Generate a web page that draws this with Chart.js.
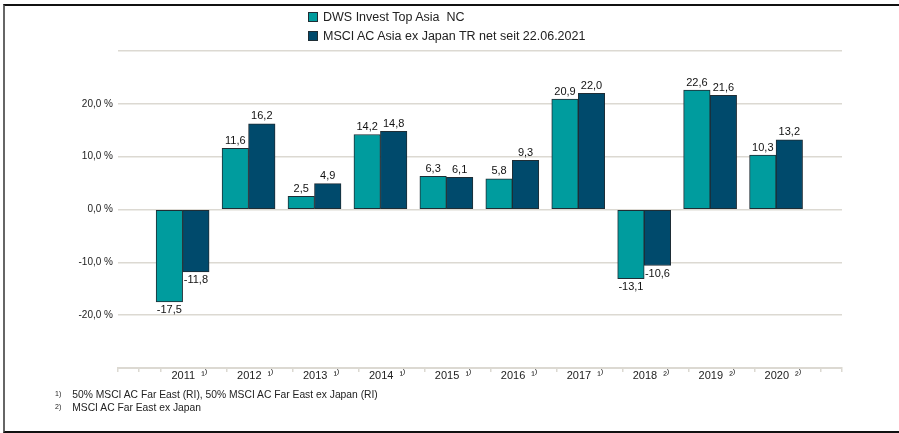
<!DOCTYPE html>
<html>
<head>
<meta charset="utf-8">
<style>
  body { margin: 0; background: #fff; font-family: "Liberation Sans", Arial, sans-serif; }
  .wrap { position: relative; width: 899px; height: 433px; overflow: hidden; }
  .frame { position: absolute; left: 3px; top: 4px; width: 910px; height: 425px;
    border-top: 2px solid #111; border-left: 2px solid #666; border-bottom: 2px solid #111; }
  #myChart { position: absolute; left: 0; top: 0; }
  .legend { position: absolute; left: 308px; top: 9px; font-size: 12.5px; color: #222; }
  .legend div { height: 19px; line-height: 16px; white-space: pre; }
  .legend span { display: inline-block; width: 8px; height: 8px; border: 1px solid #1f2d35;
    margin-right: 5px; vertical-align: -1px; }
  .notes { position: absolute; left: 55px; top: 387px; font-size: 10.3px; color: #222; }
  .notes div { height: 13px; line-height: 13px; }
  .notes sup { font-size: 7px; vertical-align: 2px; margin-right: 11px; }
</style>
</head>
<body>
<div class="wrap">
  <div class="frame"></div>
  <canvas id="myChart" width="899" height="433"></canvas>
  <div class="legend" id="legend"></div>
  <div class="notes">
    <div><sup>1)</sup>50% MSCI AC Far East (RI), 50% MSCI AC Far East ex Japan (RI)</div>
    <div><sup>2)</sup>MSCI AC Far East ex Japan</div>
  </div>
</div>

<script src="https://cdn.jsdelivr.net/npm/chart.js@4"></script>
<script>
// data
const years = ['2011', '2012', '2013', '2014', '2015', '2016', '2017', '2018', '2019', '2020'];
const yearNotes = ['¹⁾', '¹⁾', '¹⁾', '¹⁾', '¹⁾', '¹⁾', '¹⁾', '²⁾', '²⁾', '²⁾'];
const fundName = 'DWS Invest Top Asia  NC';
const benchName = 'MSCI AC Asia ex Japan TR net seit 22.06.2021';
const fundValues = [-17.5, 11.6, 2.5, 14.2, 6.3, 5.8, 20.9, -13.1, 22.6, 10.3];
const benchValues = [-11.8, 16.2, 4.9, 14.8, 6.1, 9.3, 22.0, -10.6, 21.6, 13.2];

const fundColor = '#009c9e';
const benchColor = '#004a6c';
const gridColor = '#dcd9d2';

function fmt(v) {
  return v.toFixed(1).replace('.', ',');
}

// x positions: tick marks between the years (as in the original), labels near bar centres
const xMin = -0.98, xMax = 10;
const markPos = [xMin, -0.66, -0.33];
for (let i = 0; i < years.length; i++) markPos.push(i + 0.675);
markPos.push(xMax);
const labelShift = 0.1;

// legend as html
document.getElementById('legend').innerHTML =
  '<div><span style="background:' + fundColor + '"></span>' + fundName + '</div>' +
  '<div><span style="background:' + benchColor + '"></span>' + benchName + '</div>';

const valueLabels = {
  id: 'valueLabels',
  afterDatasetsDraw(chart) {
    const ctx = chart.ctx;
    ctx.save();
    ctx.font = '11px "Liberation Sans", Arial, sans-serif';
    ctx.fillStyle = '#111';
    ctx.textAlign = 'center';
    chart.data.datasets.forEach((ds, di) => {
      chart.getDatasetMeta(di).data.forEach((bar, i) => {
        const v = ds.data[i].y;
        if (v >= 0) {
          ctx.textBaseline = 'bottom';
          ctx.fillText(fmt(v), bar.x, bar.y - 2);
        } else {
          ctx.textBaseline = 'top';
          ctx.fillText(fmt(v), bar.x, bar.y + 3);
        }
      });
    });
    ctx.restore();
  }
};

const ctx = document.getElementById('myChart');

let chart = new Chart(ctx, {
  type: 'bar',
  data: {
    datasets: [{
      label: fundName,
      data: fundValues.map((v, i) => ({ x: i, y: v })),
      backgroundColor: fundColor,
      borderColor: '#1f2d35',
      borderWidth: 1,
      borderSkipped: false
    }, {
      label: benchName,
      data: benchValues.map((v, i) => ({ x: i, y: v })),
      backgroundColor: benchColor,
      borderColor: '#1f2d35',
      borderWidth: 1,
      borderSkipped: false
    }]
  },
  options: {
    responsive: false,
    animation: false,
    barThickness: 26.5,
    layout: { padding: { left: 0, right: 57, top: 51, bottom: 45 } },
    plugins: {
      legend: { display: false },
      tooltip: { enabled: false }
    },
    scales: {
      x: {
        type: 'linear',
        min: xMin,
        max: xMax,
        offset: false,
        afterBuildTicks: function(scale) {
          const t = markPos.map(v => ({ value: v }));
          years.forEach((y, i) => t.push({ value: i + labelShift }));
          t.sort((a, b) => a.value - b.value);
          scale.ticks = t;
        },
        afterFit: function(scale) { scale.height = 20; },
        ticks: {
          autoSkip: false,
          maxRotation: 0,
          padding: -3,
          color: '#222',
          font: { family: '"Liberation Sans", Arial, sans-serif', size: 11 },
          callback: function(value) {
            const i = Math.round(value - labelShift);
            if (Math.abs(value - labelShift - i) < 0.001 && i >= 0 && i < years.length) {
              return years[i] + '  ' + yearNotes[i];
            }
            return '';
          }
        },
        grid: {
          offset: false,
          drawOnChartArea: false,
          tickLength: 4,
          lineWidth: 1.5,
          tickColor: function(c) {
            return c.tick && c.tick.label ? 'rgba(0,0,0,0)' : gridColor;
          }
        },
        border: { color: gridColor, width: 2 }
      },
      y: {
        min: -30,
        max: 30,
        afterFit: function(scale) { scale.width = 118; },
        ticks: {
          stepSize: 10,
          padding: 5,
          color: '#222',
          font: { family: '"Liberation Sans", Arial, sans-serif', size: 10 },
          callback: function(value) {
            if (Math.abs(value) > 25) return '';
            return fmt(value) + ' %';
          }
        },
        grid: { color: gridColor, lineWidth: 1.5, drawTicks: false },
        border: { display: false }
      }
    }
  },
  plugins: [valueLabels]
});
</script>
</body>
</html>
